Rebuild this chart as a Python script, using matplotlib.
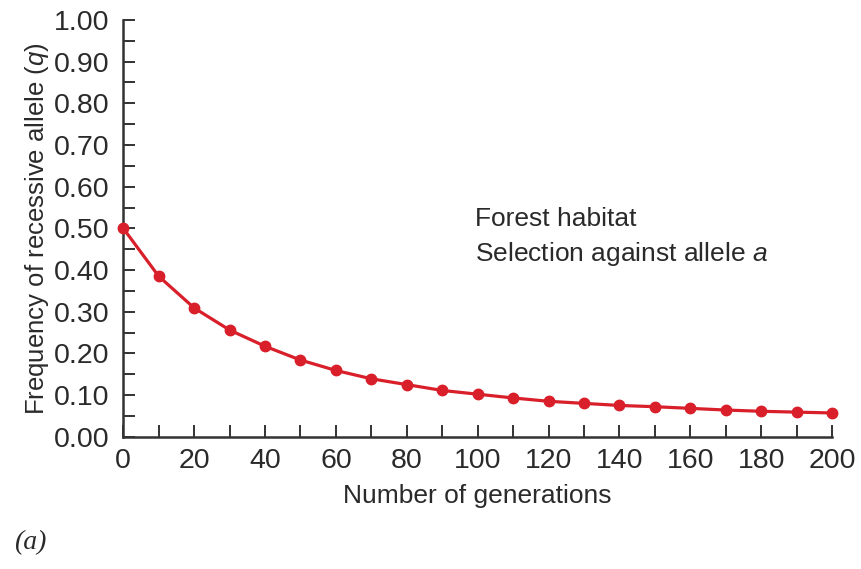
import matplotlib
matplotlib.use("Agg")
import matplotlib.pyplot as plt
from matplotlib.ticker import MultipleLocator, FormatStrFormatter

generations = [0, 10, 20, 30, 40, 50, 60, 70, 80, 90, 100,
               110, 120, 130, 140, 150, 160, 170, 180, 190, 200]
q_freq = [0.500, 0.385, 0.309, 0.256, 0.217, 0.184, 0.159, 0.139, 0.125, 0.111, 0.102,
          0.093, 0.085, 0.080, 0.075, 0.072, 0.068, 0.064, 0.061, 0.059, 0.057]

x_ticks = list(range(0, 201, 20))
y_ticks = [i / 10 for i in range(0, 11)]

FONT = ["Liberation Sans Narrow", "Liberation Sans", "DejaVu Sans"]
TEXT_COLOR = "#2a2a2a"
RED = "#d81f2a"

plt.rcParams["font.family"] = FONT
plt.rcParams["mathtext.fontset"] = "custom"
plt.rcParams["mathtext.it"] = "Liberation Sans:italic"
plt.rcParams["mathtext.rm"] = "Liberation Sans"

fig = plt.figure(figsize=(8.62, 5.69), dpi=100)
ax = fig.add_axes([0.1430, 0.2325, 0.8222, 0.7324])

ax.plot(generations, q_freq, color=RED, lw=2.3, marker="o", ms=7.5,
        clip_on=False, zorder=3)

ax.set_xlim(0, 200)
ax.set_ylim(0, 1.0)
ax.set_xticks(x_ticks)
ax.xaxis.set_minor_locator(MultipleLocator(10))
ax.set_yticks(y_ticks)
ax.yaxis.set_minor_locator(MultipleLocator(0.05))
ax.yaxis.set_major_formatter(FormatStrFormatter("%.2f"))

for side in ("top", "right"):
    ax.spines[side].set_visible(False)
for side in ("left", "bottom"):
    ax.spines[side].set_linewidth(1.8)
    ax.spines[side].set_color("#333333")

ax.tick_params(which="both", direction="in", length=8.5, width=1.4,
               color="#333333", labelcolor=TEXT_COLOR, labelsize=20.5)
ax.tick_params(axis="y", which="both", pad=10)
ax.tick_params(axis="x", which="both", pad=8)

ax.set_xlabel("Number of generations", fontsize=19, color=TEXT_COLOR, labelpad=7)
ax.set_ylabel(r"Frequency of recessive allele ($\mathit{q}$)", fontsize=18.5,
              color=TEXT_COLOR, labelpad=2)

ax.text(99.2, 0.505, "Forest habitat", fontsize=19, color=TEXT_COLOR)
ax.text(99.2, 0.422, r"Selection against allele $\mathit{a}$", fontsize=19,
        color=TEXT_COLOR)

fig.text(0.016, 0.035, "(a)", fontsize=20, color=TEXT_COLOR,
         family=["Liberation Serif", "DejaVu Serif"], style="italic")

fig.savefig("out.png", dpi=100)
